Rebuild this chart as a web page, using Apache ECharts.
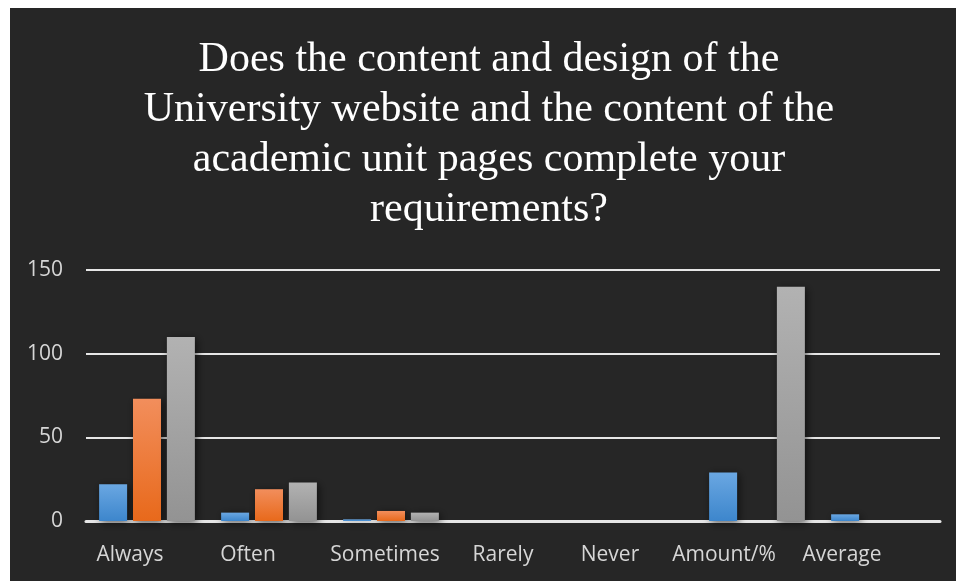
<!DOCTYPE html>
<html>
<head>
<meta charset="utf-8">
<style>
  html, body { margin: 0; padding: 0; background: #ffffff; }
  #chart { width: 956px; height: 581px; }
</style>
<script src="https://cdn.jsdelivr.net/npm/echarts@6/dist/echarts.min.js"></script>
</head>
<body>
<div id="chart"></div>
<script>
// Survey answers per response category
const categories = ['Always', 'Often', 'Sometimes', 'Rarely', 'Never', 'Amount/%', 'Average'];
const seriesBlue = [22, 5, 1, 0, 0, 29, 4];
const seriesOrange = [73, 19, 6, 0, 0, 0, 0];
const seriesGray = [110, 23, 5, 0, 0, 140, 0];
const yTicks = [0, 50, 100, 150];

// Horizontal nudge (px) for each category label
const labelShift = [-17, -21, -6, -10, -25, -33, -37];

const titleText = 'Does the content and design of the\nUniversity website and the content of the\nacademic unit pages complete your\nrequirements?';

function grad(top, bottom) {
  return new echarts.graphic.LinearGradient(0, 0, 0, 1, [
    { offset: 0, color: top },
    { offset: 1, color: bottom }
  ]);
}

const labelFont = { color: '#d6d6d6', fontSize: 21, fontFamily: 'Open Sans' };

const rich = {};
categories.forEach((c, i) => {
  const s = labelShift[i];
  rich['c' + i] = Object.assign({}, labelFont, {
    padding: s < 0 ? [0, -2 * s, 0, 0] : [0, 0, 0, 2 * s]
  });
});

const barShadow = {
  shadowColor: 'rgba(0,0,0,0.6)',
  shadowBlur: 8,
  shadowOffsetX: 2,
  shadowOffsetY: 2
};

const barCommon = {
  type: 'bar',
  barWidth: 28,
  barGap: '21%',
  silent: true
};

const chart = echarts.init(document.getElementById('chart'), null, { renderer: 'canvas' });
chart.setOption({
  animation: false,
  backgroundColor: '#ffffff',
  graphic: [
    {
      type: 'rect',
      z: -10,
      silent: true,
      shape: { x: 10, y: 8, width: 946, height: 573 },
      style: { fill: '#262626' }
    },
    {
      type: 'text',
      silent: true,
      x: 489,
      y: 35,
      style: {
        text: titleText,
        fill: '#ffffff',
        font: '42px "Liberation Serif"',
        lineHeight: 50,
        align: 'center',
        verticalAlign: 'top'
      }
    }
  ],
  grid: {
    left: 86,
    right: 16,
    top: 270,
    bottom: 60,
    containLabel: false
  },
  xAxis: {
    type: 'category',
    data: categories,
    axisTick: { show: false },
    axisLine: { lineStyle: { color: '#e6e6e6', width: 3 } },
    axisLabel: {
      margin: 24,
      interval: 0,
      formatter: (v, i) => '{c' + i + '|' + v + '}',
      rich: rich
    }
  },
  yAxis: {
    type: 'value',
    min: yTicks[0],
    max: yTicks[yTicks.length - 1],
    interval: 50,
    axisLine: { show: false },
    axisTick: { show: false },
    axisLabel: Object.assign({}, labelFont, { margin: 23 }),
    splitLine: { lineStyle: { color: '#e6e6e6', width: 2 } }
  },
  series: [
    Object.assign({}, barCommon, {
      name: 'A',
      data: seriesBlue,
      itemStyle: Object.assign({ color: grad('#6aa7e2', '#3d86cc') }, barShadow)
    }),
    Object.assign({}, barCommon, {
      name: 'B',
      data: seriesOrange,
      itemStyle: Object.assign({ color: grad('#f28e5c', '#e8691b') }, barShadow)
    }),
    Object.assign({}, barCommon, {
      name: 'C',
      data: seriesGray,
      itemStyle: Object.assign({ color: grad('#b2b2b2', '#939393') }, barShadow)
    })
  ]
});
</script>
</body>
</html>
